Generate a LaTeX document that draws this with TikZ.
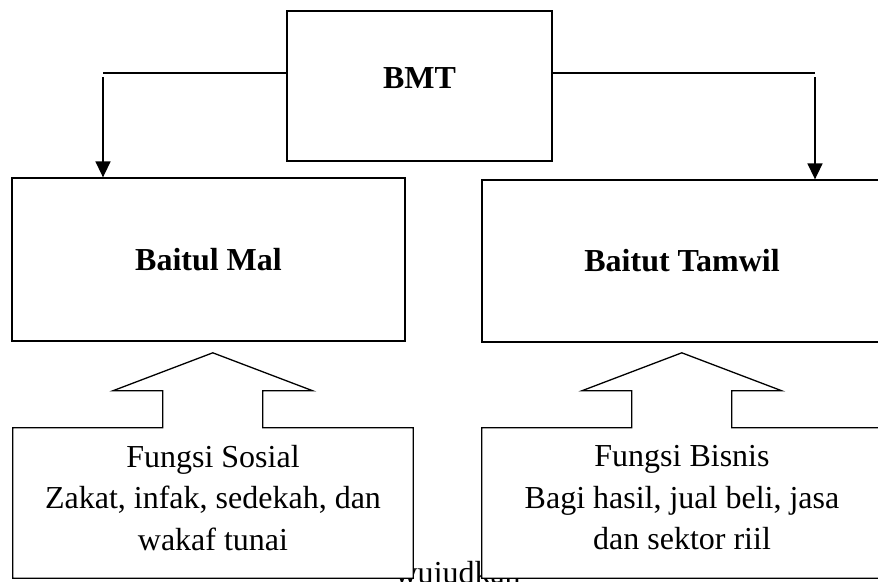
\documentclass[tikz,border=0pt]{standalone}
\usepackage{fontspec}
\setmainfont{Liberation Serif}
\usetikzlibrary{arrows.meta}

\begin{document}
\begin{tikzpicture}[x=1pt,y=-1pt,>={Triangle[width=15pt,length=16pt]},
	box/.style={draw,line width=1.3pt,inner sep=0pt},
	head/.style={font=\fontsize{32}{41.5}\selectfont\bfseries},
	txt/.style={font=\fontsize{32}{41.5}\selectfont,align=center}]
		\useasboundingbox (0,0) rectangle (878,581);
		\node[box,minimum width=265pt,minimum height=150pt] (bmt) at (419.5,86) {};
		\node[head,anchor=base] (bmtname) at ([yshift=-2pt]bmt.center) {BMT};
		\node[box,head,minimum width=393pt,minimum height=163pt] (mal) at (208.5,259.5) {Baitul Mal};
		\node[box,head,minimum width=400pt,minimum height=162pt] (tamwil) at (682,261) {Baitut Tamwil};
		\coordinate (lknee) at (103,73);
		\coordinate (rknee) at (815,73);
		\draw[line width=1.3pt] (bmt.west |- lknee) -- (lknee);
		\draw[line width=1.3pt] (bmt.east |- rknee) -- (rknee);
		\draw[->,line width=1.6pt] ([yshift=-4pt]lknee) -- (lknee |- mal.north);
		\draw[->,line width=1.6pt] ([yshift=-4pt]rknee) -- (rknee |- tamwil.north);
		\node[txt,anchor=base west] (wujud) at (391,583) {wujudkan};
		\node[txt,fill=white,inner sep=0pt,text depth=11pt,minimum width=400pt,minimum height=150pt] (sosial) at (213,503) {Fungsi Sosial\\Zakat, infak, sedekah, dan\\wakaf tunai};
		\node[txt,fill=white,inner sep=0pt,text depth=11pt,minimum width=400pt,minimum height=150pt] (bisnis) at (682,503) {Fungsi Bisnis\\Bagi hasil, jual beli, jasa\\dan sektor riil};
		\foreach \n in {sosial,bisnis}
			\draw[line width=1.3pt] (\n.north west) -- ++(150,0) -- ++(0,-37) -- ++(-50,0) -- ++(100,-38) -- ++(100,38) -- ++(-50,0) -- ++(0,37) -- (\n.north east) -- (\n.south east) -- (\n.south west) -- cycle;
\end{tikzpicture}
\end{document}
